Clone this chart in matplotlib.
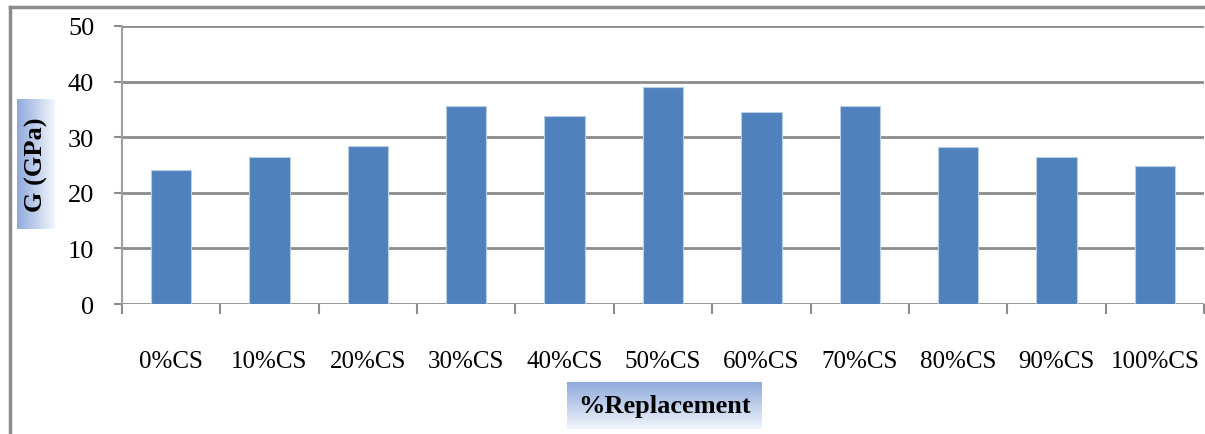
import numpy as np
import matplotlib
matplotlib.use("Agg")
import matplotlib.pyplot as plt
from matplotlib.lines import Line2D

categories = ["0%CS", "10%CS", "20%CS", "30%CS", "40%CS", "50%CS",
              "60%CS", "70%CS", "80%CS", "90%CS", "100%CS"]
values = [24.1, 26.4, 28.5, 35.6, 33.9, 39.0, 34.6, 35.6, 28.2, 26.4, 24.8]
yticks = [0, 10, 20, 30, 40, 50]
ylabel = "G (GPa)"
xlabel = "%Replacement"

W, H = 1205, 435
fig = plt.figure(figsize=(W / 100, H / 100), dpi=100)
serif = ["Liberation Serif", "DejaVu Serif"]

ax = fig.add_axes([122 / W, 1 - 305 / H, 1082 / W, 278 / H])
x = np.arange(len(categories))
ax.bar(x, values, width=0.41, color="#4F81BD", edgecolor="#B9CDE5", linewidth=0.8, zorder=3)
ax.set_xlim(-0.5, len(categories) - 0.5)
ax.set_ylim(0, 50)
ax.set_yticks(yticks)
ax.set_yticklabels([str(t) for t in yticks], fontfamily=serif, fontsize=19)
ax.yaxis.grid(True, color="#8C8C8C", linewidth=2.0, zorder=1)
ax.set_axisbelow(True)
for s in ["top", "right", "bottom"]:
    ax.spines[s].set_visible(False)
ax.spines["left"].set_color("#A0A0A0")
ax.spines["left"].set_linewidth(1.5)
ax.tick_params(axis="y", length=6, color="#8C8C8C", width=1.5, pad=14)

ax.set_xticks(np.arange(len(categories) + 1) - 0.5)
ax.set_xticklabels([])
ax.set_xticks(x, minor=True)
ax.set_xticklabels(categories, minor=True, fontfamily=serif, fontsize=18)
ax.tick_params(axis="x", which="major", length=7, color="#8C8C8C", width=1.5, direction="out")
ax.tick_params(axis="x", which="minor", length=0, pad=33)

fig.add_artist(Line2D([10 / W, 1.0], [1 - 8 / H, 1 - 8 / H], color="#8C8C8C", linewidth=2.5))
fig.add_artist(Line2D([10 / W, 10 / W], [0, 1 - 8 / H], color="#8C8C8C", linewidth=2.5))

blue = np.array([0x8E, 0xAA, 0xDB]) / 255.0
light = np.array([0xF2, 0xF6, 0xFC]) / 255.0

def grad_box(x0, y0, w, h, text, rotation, direction, fs):
    bax = fig.add_axes([x0 / W, 1 - (y0 + h) / H, w / W, h / H])
    g = np.linspace(0, 1, 256)
    cols = blue[None, :] * (1 - g[:, None]) + light[None, :] * g[:, None]
    if direction == "h":
        img = cols[None, :, :]          # left blue -> right light
    else:
        img = cols[:, None, :]          # top blue -> bottom light
    bax.imshow(img, aspect="auto", extent=[0, 1, 0, 1], origin="upper")
    bax.set_axis_off()
    bax.text(0.5, 0.5, text, rotation=rotation, ha="center", va="center",
             fontfamily=serif, fontweight="bold", fontsize=fs, color="black",
             transform=bax.transAxes)

grad_box(17, 100, 38, 130, ylabel, 90, "h", 19)
grad_box(567, 383, 195, 47, xlabel, 0, "v", 19)

fig.savefig("out.png", dpi=100)
